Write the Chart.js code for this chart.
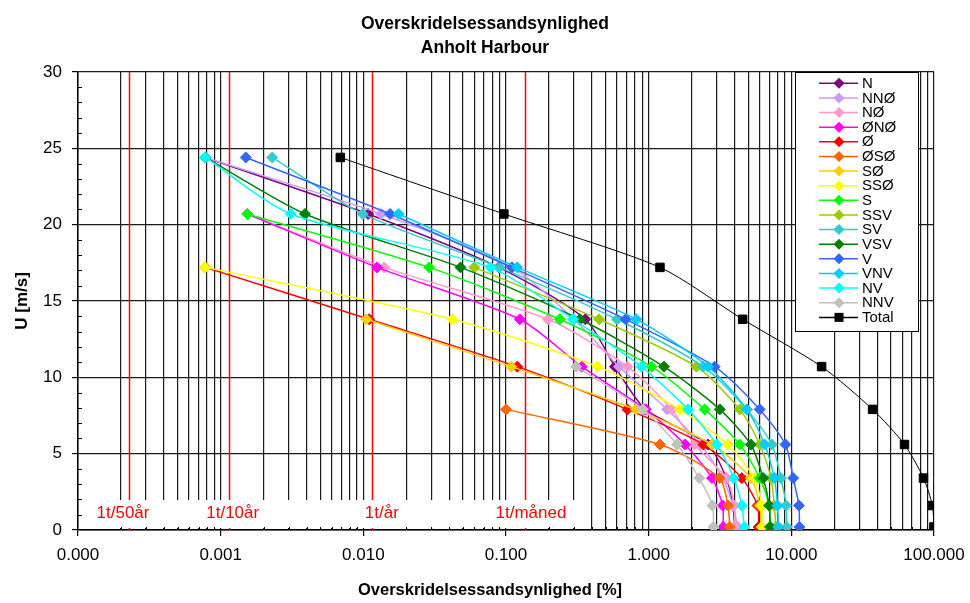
<!DOCTYPE html>
<html><head><meta charset="utf-8">
<script src="https://cdn.jsdelivr.net/npm/chart.js@4.4.0/dist/chart.umd.min.js"></script>
<style>html,body{margin:0;padding:0;background:#fff}canvas{display:block}</style>
</head><body>
<canvas id="c" width="970" height="603"></canvas>
<script>
// Wind speed bins [m/s]
const U = [24.4, 20.7, 17.2, 13.8, 10.7, 7.9, 5.6, 3.4, 1.6, 0.2];
// Exceedance probability [%] per direction (null = no value)
const N   = [0.00078, 0.0108, 0.089, 0.36, 0.58, 0.95, 2.6, 3.5, 3.9, 4.0];
const NNO = [0.00078, 0.0133, 0.11, 0.30, 0.62, 1.35, 2.3, 3.3, 3.9, 4.2];
const NO  = [null, 0.00154, 0.014, 0.197, 0.71, 1.45, 2.1, 3.5, 3.98, 4.0];
const ONO = [null, 0.00154, 0.0125, 0.125, 0.34, 0.95, 1.8, 2.78, 3.3, 3.33];
const O   = [null, null, 0.00078, 0.011, 0.12, 0.71, 2.42, 4.5, 5.8, 5.9];
const OSO = [null, null, null, null, null, 0.1, 1.2, 3.13, 3.6, 3.7];
const SO  = [null, null, null, 0.0105, 0.109, 0.81, 2.78, 5.2, 6.0, 6.2];
const SSO = [null, null, 0.00078, 0.042, 0.44, 1.65, 3.6, 5.5, 6.2, 6.3];
const S   = [null, 0.00154, 0.029, 0.238, 1.05, 2.47, 4.35, 6.0, 7.0, 7.1];
const SSV = [null, null, 0.06, 0.45, 2.16, 4.35, 6.0, 7.2, 7.6, 7.8];
const SV  = [0.0023, 0.0099, 0.09, 0.6, 2.41, 4.87, 7.3, 8.45, 9.2, 9.3];
const VSV = [0.00078, 0.0039, 0.048, 0.33, 1.28, 3.15, 5.2, 6.35, 7.0, 7.1];
const V   = [0.0015, 0.0154, 0.11, 0.69, 2.9, 6.0, 9.1, 10.3, 11.3, 11.4];
const VNV = [null, 0.0177, 0.12, 0.82, 2.61, 4.87, 6.5, 7.6, 8.0, 8.1];
const NV  = [0.00078, 0.0031, 0.078, 0.296, 0.89, 1.89, 3.0, 3.95, 4.5, 4.68];
const NNV = [null, null, null, null, 0.31, 0.91, 1.58, 2.26, 2.8, 2.85];
const TOTAL = [0.0069, 0.0966, 1.2, 4.56, 16.3, 37.1, 62.1, 84.4, 97.5, 99.9];

const seriesNames = ['N','NNØ','NØ','ØNØ','Ø','ØSØ','SØ','SSØ','S','SSV','SV','VSV','V','VNV','NV','NNV','Total'];
const seriesValues = [N,NNO,NO,ONO,O,OSO,SO,SSO,S,SSV,SV,VSV,V,VNV,NV,NNV,TOTAL];
const seriesColors = ['#800080','#CC99FF','#FF99CC','#FF00FF','#FF0000','#FF6600','#FFCC00','#FFFF00',
  '#00FF00','#99CC00','#33CCCC','#008000','#3366FF','#00CCFF','#00FFFF','#C0C0C0','#000000'];

// Return-period reference lines [%] and labels
const refValues = [100/(50*8760), 100/(10*8760), 100/8760, 100/730];
const refLabels = ['1t/50år','1t/10år','1t/år','1t/måned'];

const xTitle = 'Overskridelsessandsynlighed [%]';

const xTickValues = [];
for (let e = -4; e <= 1; e++) for (let m = 1; m <= 9; m++) xTickValues.push(+(m * Math.pow(10, e)).toPrecision(3));
xTickValues.push(100);

const FONT = "'Liberation Sans', Arial, sans-serif";
const isMajor = v => Math.abs(Math.log10(v) - Math.round(Math.log10(v))) < 1e-9;

const datasets = seriesNames.map((name, i) => {
  const pts = [];
  U.forEach((u, k) => { const v = seriesValues[i][k]; if (v !== null) pts.push({x: v, y: u}); });
  const total = name === 'Total';
  return {
    label: name, data: pts, showLine: true,
    borderColor: seriesColors[i], backgroundColor: seriesColors[i],
    pointBackgroundColor: seriesColors[i], pointBorderColor: seriesColors[i],
    borderWidth: total ? 1 : 1.5, pointStyle: total ? 'rect' : 'rectRot',
    pointRadius: total ? 6 : 5.5, pointBorderWidth: 1, tension: 0.25,
    order: seriesNames.length - i
  };
});

const decor = {
  id: 'decor',
  beforeDatasetsDraw(chart) {
    const {ctx, chartArea: a, scales: {x, y}} = chart;
    ctx.save();
    ctx.strokeStyle = '#ff0000'; ctx.lineWidth = 1.5;
    refValues.forEach(v => {
      const px = Math.round(x.getPixelForValue(v)) + 0.5;
      ctx.beginPath(); ctx.moveTo(px, a.top); ctx.lineTo(px, a.bottom); ctx.stroke();
    });
    ctx.fillStyle = '#fff';
    ctx.fillRect(a.left + 1, 500, 585 - a.left, 28);
    ctx.fillStyle = '#ff0000'; ctx.font = '17px ' + FONT; ctx.textBaseline = 'middle'; ctx.textAlign = 'left';
    const offs = [-32.6, -22.6, -6.7, -30];
    refValues.forEach((v, i) => ctx.fillText(refLabels[i], x.getPixelForValue(v) + offs[i], 513));
    ctx.strokeStyle = '#000'; ctx.lineWidth = 1; ctx.beginPath();
    for (let u = 1; u < 30; u++) if (u % 5) {
      const py = Math.round(y.getPixelForValue(u)) + 0.5;
      ctx.moveTo(a.left, py); ctx.lineTo(a.left + 4, py);
    }
    xTickValues.forEach(v => { if (!isMajor(v)) {
      const px = Math.round(x.getPixelForValue(v)) + 0.5;
      ctx.moveTo(px, a.bottom); ctx.lineTo(px, a.bottom - 3);
    }});
    ctx.stroke();
    ctx.restore();
  },
  afterDraw(chart) {
    const ctx = chart.ctx;
    ctx.save();
    ctx.fillStyle = '#000'; ctx.font = 'bold 16.5px ' + FONT;
    ctx.textAlign = 'center'; ctx.textBaseline = 'middle';
    ctx.fillText(xTitle, 490, 590);
    ctx.restore();
  }
};

const boxLegend = {
  id: 'boxLegend',
  afterDraw(chart) {
    const ctx = chart.ctx;
    ctx.save();
    ctx.fillStyle = '#fff'; ctx.fillRect(795.5, 72.5, 123, 259);
    ctx.strokeStyle = '#000'; ctx.lineWidth = 1; ctx.strokeRect(795.5, 72.5, 123, 259);
    ctx.font = '15px ' + FONT; ctx.textBaseline = 'middle'; ctx.textAlign = 'left';
    chart.data.datasets.forEach((ds, i) => {
      const yy = 83.3 + i * 14.63;
      ctx.strokeStyle = ds.borderColor; ctx.lineWidth = 1.5;
      ctx.beginPath(); ctx.moveTo(819, yy); ctx.lineTo(858, yy); ctx.stroke();
      ctx.fillStyle = ds.borderColor;
      ctx.beginPath();
      if (ds.pointStyle === 'rect') ctx.rect(839 - 4.5, yy - 4.5, 9, 9);
      else { ctx.moveTo(839, yy - 5.5); ctx.lineTo(844.5, yy); ctx.lineTo(839, yy + 5.5); ctx.lineTo(833.5, yy); ctx.closePath(); }
      ctx.fill();
      ctx.fillStyle = '#000';
      ctx.fillText(ds.label, 862, yy + 0.5);
    });
    ctx.restore();
  }
};

new Chart(document.getElementById('c'), {
  type: 'scatter',
  data: { datasets },
  plugins: [decor, boxLegend],
  options: {
    responsive: false, animation: false, devicePixelRatio: 1,
    layout: { padding: 0 },
    plugins: {
      legend: { display: false }, tooltip: { enabled: false },
      title: { display: true, text: ['Overskridelsessandsynlighed', 'Anholt Harbour'], color: '#000',
        font: { family: FONT, size: 17.5, weight: 'bold', lineHeight: 1.37 }, padding: { top: 12, bottom: 12 } }
    },
    scales: {
      x: {
        type: 'logarithmic', min: 1e-4, max: 100,
        afterBuildTicks: s => { s.ticks = xTickValues.map(v => ({ value: v })); },
        afterFit: s => { s.height = 73; s.paddingLeft = 0; s.paddingRight = 0; },
        ticks: { autoSkip: false, maxRotation: 0, padding: 9, color: '#000', font: { family: FONT, size: 17 },
          callback: v => isMajor(v) ? Number(v).toFixed(3) : '' },
        grid: { color: '#1a1a1a', lineWidth: 1.2, tickLength: 6,
          tickColor: c => (c.tick && isMajor(c.tick.value)) ? '#000' : 'rgba(0,0,0,0)' },
        border: { display: true, color: '#000', width: 1.5 }
      },
      y: {
        min: 0, max: 30,
        afterFit: s => { s.width = 78; s.paddingTop = 0; s.paddingBottom = 0; },
        ticks: { stepSize: 5, padding: 10, color: '#000', font: { family: FONT, size: 17 } },
        grid: { color: '#1a1a1a', lineWidth: 1.2, tickLength: 6, tickColor: '#000' },
        border: { display: true, color: '#000', width: 1.5 },
        title: { display: true, text: 'U [m/s]', color: '#000',
          font: { family: FONT, size: 17, weight: 'bold', lineHeight: 1.2 }, padding: { top: 12, bottom: 0 } }
      },
      yRight: {
        position: 'right', min: 0, max: 30,
        afterFit: s => { s.width = 36; s.paddingTop = 0; s.paddingBottom = 0; },
        ticks: { display: false }, grid: { display: false, drawOnChartArea: false }, border: { display: false }
      }
    }
  }
});
</script>
</body></html>
